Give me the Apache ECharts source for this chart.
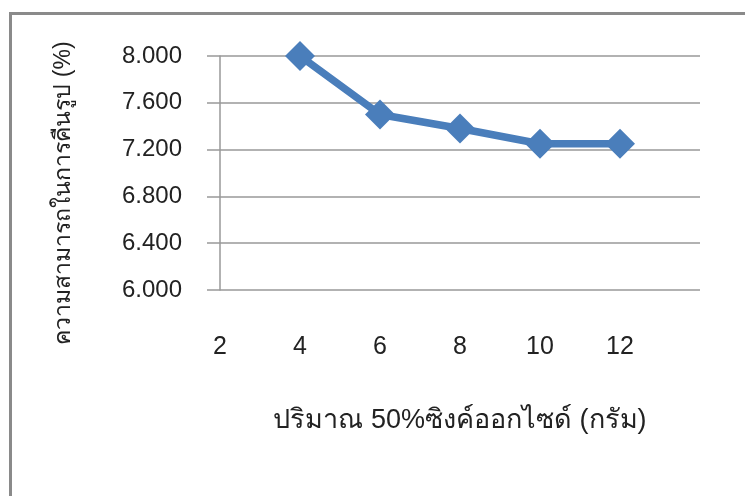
<!DOCTYPE html>
<html><head><meta charset="utf-8">
<script src="https://cdn.jsdelivr.net/npm/echarts@6/dist/echarts.min.js"></script>
<style>html,body{margin:0;padding:0;background:#fff}#c{width:745px;height:496px}</style>
</head><body><div id="c"></div>
<script>
const xTicks = [2, 4, 6, 8, 10, 12];
const xValues = [4, 6, 8, 10, 12];
const yValues = [8.0, 7.5, 7.38, 7.25, 7.25];
const xName = 'ปริมาณ 50%ซิงค์ออกไซด์ (กรัม)';
const yName = 'ความสามารถในการคืนรูป (%)';

const chart = echarts.init(document.getElementById('c'), null, {renderer: 'canvas'});
const font = '"Liberation Sans", Arial, sans-serif';
chart.setOption({
  animation: false,
  backgroundColor: '#fff',
  graphic: [{type: 'rect', shape: {x: 10.5, y: 13.5, width: 900, height: 600},
    style: {fill: 'none', stroke: '#8a8a8a', lineWidth: 3}}],
  grid: {left: 220, right: 45, top: 56, bottom: 206, containLabel: false},
  xAxis: {
    type: 'value', min: 2, max: 14, interval: 2,
    axisLine: {show: false},
    axisTick: {show: false},
    splitLine: {show: false},
    axisLabel: {margin: 45, fontSize: 25, color: '#222', fontFamily: font,
      formatter: v => xTicks.includes(v) ? String(v) : ''},
    name: xName, nameLocation: 'middle', nameGap: 117,
    nameTextStyle: {fontSize: 27, color: '#222', fontFamily: font}
  },
  yAxis: {
    type: 'value', min: 6, max: 8, interval: 0.4,
    axisLine: {show: true, lineStyle: {color: '#999', width: 1.5}},
    axisTick: {show: true, length: 13, lineStyle: {color: '#999', width: 1.5}},
    splitLine: {show: true, lineStyle: {color: '#999', width: 1.5}},
    axisLabel: {margin: 38, fontSize: 24, color: '#222', fontFamily: font,
      formatter: v => v.toFixed(3)},
    name: yName, nameLocation: 'middle', nameRotate: 90, nameGap: 145,
    nameTextStyle: {fontSize: 23, color: '#222', fontFamily: font, padding: [0, 40, 0, 0]}
  },
  series: [{
    type: 'line',
    data: xValues.map((x, i) => [x, yValues[i]]),
    symbol: 'diamond', symbolSize: 30,
    lineStyle: {color: '#4A7EBB', width: 7.5},
    itemStyle: {color: '#4A7EBB'}
  }]
});
</script></body></html>
